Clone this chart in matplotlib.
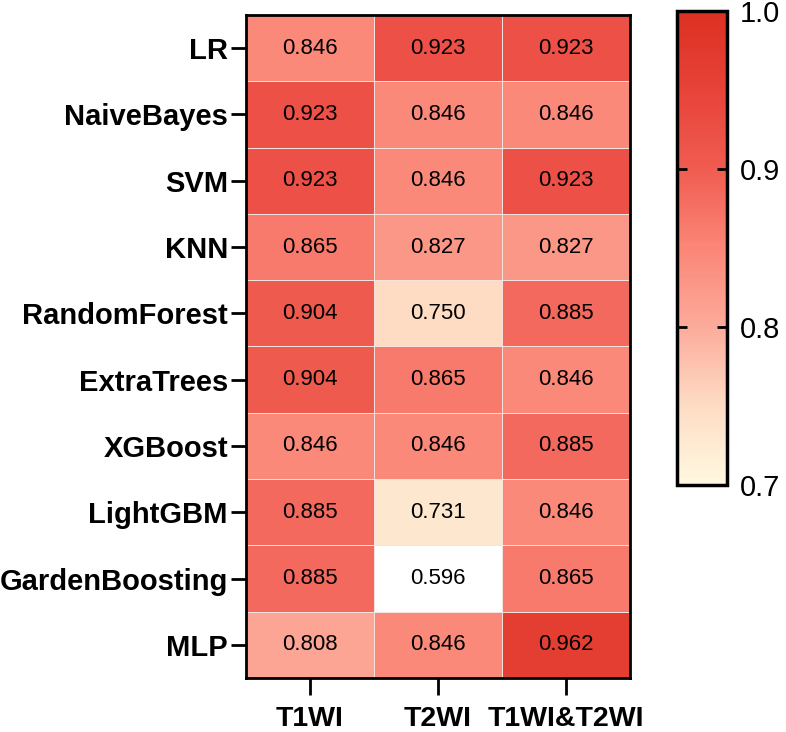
import numpy as np
import matplotlib
matplotlib.use('Agg')
import matplotlib.pyplot as plt
import matplotlib.colors as mcolors

# data
models = ['LR', 'NaiveBayes', 'SVM', 'KNN', 'RandomForest', 'ExtraTrees',
          'XGBoost', 'LightGBM', 'GardenBoosting', 'MLP']
sequences = ['T1WI', 'T2WI', 'T1WI&T2WI']
t1wi = [0.846, 0.923, 0.923, 0.865, 0.904, 0.904, 0.846, 0.885, 0.885, 0.808]
t2wi = [0.923, 0.846, 0.846, 0.827, 0.750, 0.865, 0.846, 0.731, 0.596, 0.846]
t1t2 = [0.923, 0.846, 0.923, 0.827, 0.885, 0.846, 0.885, 0.846, 0.865, 0.962]
cbar_ticks = [0.7, 0.8, 0.9, 1.0]

plt.rcParams['font.family'] = ['Liberation Sans', 'DejaVu Sans']

vals = np.array([t1wi, t2wi, t1t2]).T

# cream -> red colormap, values below 0.7 are white
cmap = mcolors.LinearSegmentedColormap.from_list('cream_red', [
    (0.0, '#fff8e1'),
    (0.167, '#fedcc4'),
    (0.333, '#fcab9b'),
    (0.5, '#fb8677'),
    (0.667, '#f05c51'),
    (0.833, '#e74339'),
    (1.0, '#dc3022'),
])
cmap.set_under('white')
norm = mcolors.Normalize(vmin=0.7, vmax=1.0)

fig = plt.figure(figsize=(7.86, 7.32), dpi=100)
ax = fig.add_axes([0.313, 0.0738, 0.4885, 0.9057])
cax = fig.add_axes([0.8615, 0.3374, 0.0636, 0.6476])

mesh = ax.pcolormesh(vals, cmap=cmap, norm=norm, edgecolors='#f6e2dc', linewidth=0.5)
ax.set_xlim(0, 3)
ax.set_ylim(len(models), 0)

for i in range(len(models)):
    for j in range(len(sequences)):
        ax.text(j + 0.5, i + 0.5, '%.3f' % vals[i, j], ha='center', va='center',
                fontsize=16, color='black')

ax.set_xticks(np.arange(len(sequences)) + 0.5)
ax.set_xticklabels(sequences, fontsize=20.5, fontweight='bold')
ax.set_yticks(np.arange(len(models)) + 0.5)
ax.set_yticklabels(models, fontsize=21, fontweight='bold')
ax.tick_params(axis='y', length=11, width=2, pad=2)
ax.tick_params(axis='x', length=12, width=2, pad=8)
for s in ax.spines.values():
    s.set_linewidth(2)

cb = fig.colorbar(mesh, cax=cax, extend='neither')
cb.outline.set_linewidth(2.5)
cb.set_ticks(cbar_ticks)
cb.set_ticklabels(['%.1f' % t for t in cbar_ticks])
cax.tick_params(axis='y', direction='in', left=True, right=True, length=7, width=2,
                labelsize=21, pad=9)

fig.savefig('out.png', dpi=100)
